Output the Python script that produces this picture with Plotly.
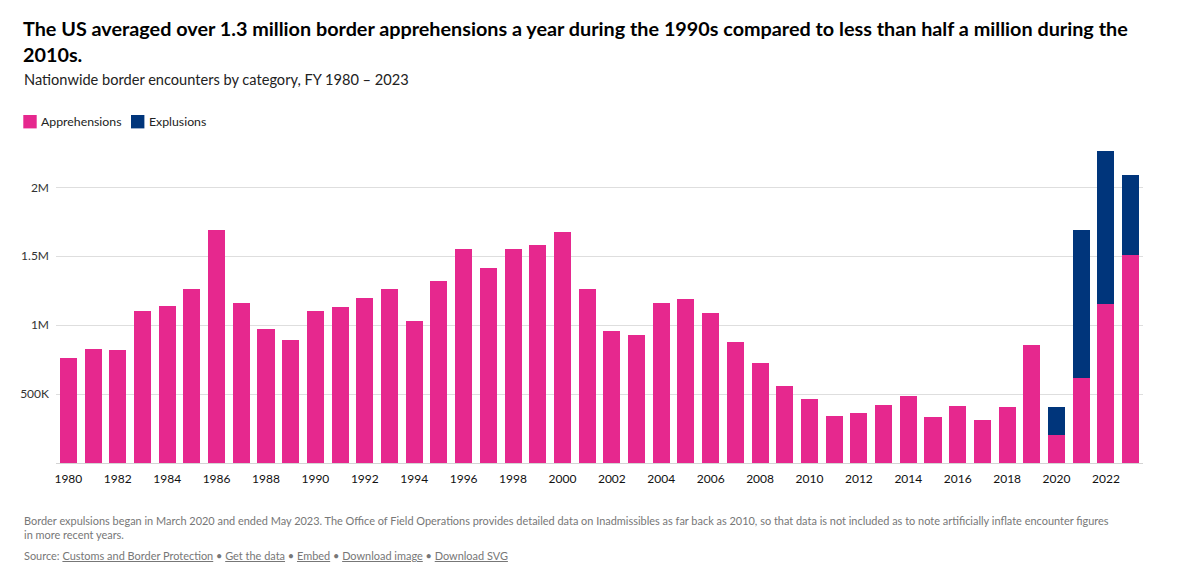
import plotly.graph_objects as go

years = list(range(1980, 2024))
apprehensions = [
    759000, 825000, 819000, 1105000, 1138000, 1262000, 1693000, 1158000, 969000, 891000,
    1103000, 1132000, 1200000, 1263000, 1032000, 1324000, 1550000, 1413000, 1556000, 1579000,
    1676000, 1266000, 955000, 932000, 1160000, 1189000, 1089000, 877000, 724000, 556000,
    463000, 340000, 365000, 421000, 487000, 337000, 416000, 311000, 404000, 859000,
    205000, 620000, 1154000, 1509000,
]
expulsions = [0] * 40 + [203000, 1070000, 1109000, 581000]
series_names = ["Apprehensions", "Explusions"]
y_tickvals = [500000, 1000000, 1500000, 2000000]
y_ticktext = ["500K", "1M", "1.5M", "2M"]
x_tickvals = list(range(1980, 2023, 2))

PINK = "#E6288E"
NAVY = "#00357B"
FONT = "Lato"

W, H = 1201, 562
L, R, T, B = 56, 58, 146, 99
PW, PH = W - L - R, H - T - B


def px_x(px):
    return (px - L) / PW


def px_y(py):
    return (H - B - py) / PH


fig = go.Figure()
fig.add_trace(go.Bar(x=years, y=apprehensions, name=series_names[0],
                     marker=dict(color=PINK, line=dict(width=0))))
fig.add_trace(go.Bar(x=years, y=expulsions, name=series_names[1],
                     marker=dict(color=NAVY, line=dict(width=0))))

fig.update_layout(
    width=W, height=H,
    barmode="stack", bargap=0.31,
    margin=dict(l=L, r=R, t=T, b=B, autoexpand=False),
    plot_bgcolor="white", paper_bgcolor="white",
    font=dict(family=FONT, color="#222"),
    showlegend=False,
    xaxis=dict(range=[1979.5, 2023.5], tickvals=x_tickvals, ticks="",
               showgrid=False, zeroline=False, showline=True, linecolor="#d4d4d4",
               linewidth=1, tickfont=dict(size=12, color="#111"),
               ticklabelstandoff=5, fixedrange=True),
    yaxis=dict(range=[0, 2300000], tickvals=y_tickvals, ticktext=y_ticktext, ticks="",
               showgrid=True, gridcolor="#dedede", gridwidth=1, zeroline=False,
               tickfont=dict(size=12, color="#333"), ticklabelstandoff=6, fixedrange=True),
)

# manual legend (swatches + labels)
legend_items = [(series_names[0], PINK, 23.3, 40.7), (series_names[1], NAVY, 131, 149)]
shapes = []
annotations = []
for name, color, sx, tx in legend_items:
    shapes.append(dict(type="rect", xref="paper", yref="paper",
                       x0=px_x(sx), x1=px_x(sx + 13.4), y0=px_y(128.4), y1=px_y(115),
                       fillcolor=color, line=dict(width=0)))
    annotations.append(dict(text=name, x=px_x(tx - 2), y=px_y(121.8), xanchor="left",
                            yanchor="middle", align="left",
                            font=dict(size=12.3, color="#222", family=FONT)))

annotations += [
    dict(text="<b>The US averaged over 1.3 million border apprehensions a year during the 1990s compared to less than half a million during the<br>2010s.</b>",
         x=px_x(21), y=px_y(13.5), xanchor="left", yanchor="top", align="left",
         font=dict(size=19.8, color="#000", family=FONT)),
    dict(text="Nationwide border encounters by category, FY 1980 – 2023",
         x=px_x(21.5), y=px_y(68.5), xanchor="left", yanchor="top", align="left",
         font=dict(size=14.6, color="#222", family=FONT)),
    dict(text="Border expulsions began in March 2020 and ended May 2023. The Office of Field Operations provides detailed data on Inadmissibles as far back as 2010, so that data is not included as to note artificially inflate encounter figures<br>in more recent years.",
         x=px_x(21.5), y=px_y(511.5), xanchor="left", yanchor="top", align="left",
         font=dict(size=10.95, color="#777", family=FONT)),
    dict(text="Source: <u>Customs and Border Protection</u> • <u>Get the data</u> • <u>Embed</u> • <u>Download image</u> • <u>Download SVG</u>",
         x=px_x(21.5), y=px_y(546.5), xanchor="left", yanchor="top", align="left",
         font=dict(size=10.95, color="#777", family=FONT)),
]
for a in annotations:
    a.update(xref="paper", yref="paper", showarrow=False)
fig.update_layout(annotations=annotations, shapes=shapes)

fig.write_html("out.html", config={"displayModeBar": False},
               post_script="document.body.style.margin='0px';")
